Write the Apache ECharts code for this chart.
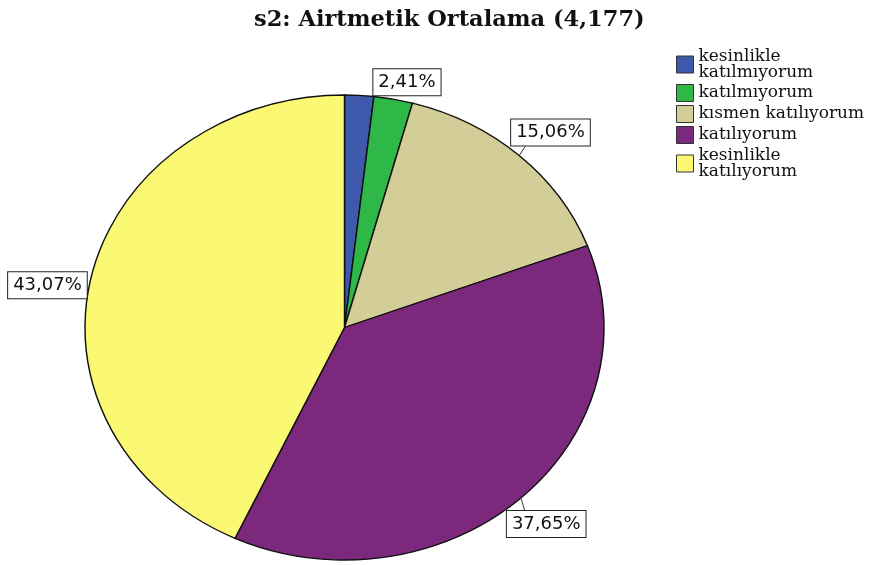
<!DOCTYPE html>
<html>
  <head>
    <title>s2</title>
    <meta charset="utf-8">
    <script type="text/javascript" src="https://cdn.jsdelivr.net/npm/echarts@6/dist/echarts.min.js"></script>
  </head>
  <body style="margin:0;background:#fff;">
  <div id="main" style="width: 882px;height:565px;"></div>

  <script type="text/javascript">
  // kategori adlari (legend'de gorundugu gibi)
  var categories = ['kesinlikle\nkatılmıyorum', 'katılmıyorum', 'kısmen katılıyorum', 'katılıyorum', 'kesinlikle\nkatılıyorum'];
  // yuzdeler
  var percents = [1.81, 2.41, 15.06, 37.65, 43.07];
  var colors = ['#3E58AC', '#2EB848', '#D3CE97', '#7C287D', '#FBF873'];
  var showLabel = [false, true, true, true, true];
  // etiket kutusunun dilim kenarina gore yeri (sol-ust kose)
  var labelOffset = [[0, 0], [-20, -30], [-8, -36], [-14, 13], [-83, -5]];

  // elips pasta
  var CX = 344.5, CY = 327.5, RX = 259.5, RY = 232.5;
  var BOX_H = 27;

  var total = 0, cum = [];
  for (var k = 0; k < percents.length; k++) { cum.push(total); total += percents[k]; }

  function fmt(v) { return v.toFixed(2).replace('.', ',') + '%'; }

  function makeRender(i) {
    return function (params, api) {
      var v = api.value(0);
      var a0 = -Math.PI / 2 + cum[i] / total * 2 * Math.PI;
      var a1 = a0 + v / total * 2 * Math.PI;
      var children = [{
        type: 'sector',
        x: CX, y: CY, scaleX: RX / RY,
        shape: { cx: 0, cy: 0, r: RY, r0: 0, startAngle: a0, endAngle: a1, clockwise: true },
        style: { fill: colors[i], stroke: '#111', lineWidth: 1.3, strokeNoScale: true }
      }];
      if (showLabel[i]) {
        var am = (a0 + a1) / 2;
        var px = CX + RX * Math.cos(am), py = CY + RY * Math.sin(am);
        var bx = px + labelOffset[i][0], by = py + labelOffset[i][1];
        if (by > py + 3) {
          children.push({ type: 'line', z2: 90, shape: { x1: px, y1: py, x2: px + 4, y2: by }, style: { stroke: '#333', lineWidth: 1 } });
        } else if (by + BOX_H < py - 3) {
          children.push({ type: 'line', z2: 90, shape: { x1: px, y1: py, x2: px + 6, y2: by + BOX_H }, style: { stroke: '#333', lineWidth: 1 } });
        }
        children.push({
          type: 'text', z2: 100, x: bx, y: by,
          style: {
            text: fmt(v), font: '18px "DejaVu Sans"', fill: '#111',
            backgroundColor: '#fff', borderColor: '#222', borderWidth: 1, padding: [4, 5]
          }
        });
      }
      return { type: 'group', children: children };
    };
  }

  var series = [];
  for (var i = 0; i < categories.length; i++) {
    series.push({
      type: 'custom',
      name: categories[i],
      coordinateSystem: 'none',
      itemStyle: { color: colors[i] },
      renderItem: makeRender(i),
      data: [percents[i]]
    });
  }

  var myChart = echarts.init(document.getElementById('main'));
  var option = {
    animation: false,
    backgroundColor: '#fff',
    title: {
      text: 's2: Airtmetik Ortalama (4,177)',
      left: 249, top: 4,
      textStyle: { fontFamily: 'DejaVu Serif', fontWeight: 'bold', fontSize: 22.5, color: '#111' }
    },
    legend: {
      orient: 'vertical',
      left: 671, top: 43,
      icon: 'rect',
      itemWidth: 17, itemHeight: 17, itemGap: 3,
      itemStyle: { borderColor: '#333', borderWidth: 1 },
      textStyle: { fontFamily: 'DejaVu Serif', fontSize: 17, lineHeight: 16, color: '#111' },
      data: categories
    },
    series: series
  };
  myChart.setOption(option);
  </script>
  </body>
</html>
